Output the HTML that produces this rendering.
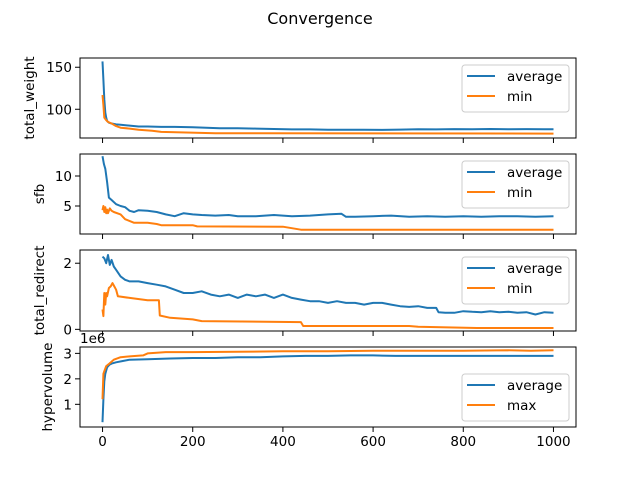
<!DOCTYPE html>
<html><head><meta charset="utf-8"><style>
body{margin:0;background:#fff}
svg{display:block;font-family:"DejaVu Sans","Liberation Sans",sans-serif}
</style></head><body>
<svg id="chart" width="640" height="480" viewBox="0 0 640 480" xmlns="http://www.w3.org/2000/svg">
<rect width="640" height="480" fill="#fff"/>
<text x="320" y="24" text-anchor="middle" font-size="16">Convergence</text>
<g id="plots"></g>
</svg>
<script>
const xTicks=[0,200,400,600,800,1000];
const w_avg_x=[0,2,4,6,8,10,14,20,30,40,60,80,100,130,160,200,230,260,300,340,380,420,460,500,540,580,620,660,700,740,780,820,860,900,940,980,1000];
const w_avg_y=[157,135,112,96,90,86,84,83,82,81.5,80.5,79.5,79.5,79,79,78.5,78,77.5,77.5,77,76.5,76,76,75.5,75.5,75.6,75.4,75.8,76.2,76,76.4,76.2,76.5,76.3,76.4,76.2,76.3];
const w_min_x=[0,2,4,8,12,20,30,40,60,80,110,130,250,1000];
const w_min_y=[117,105,90,87,85,83,80,78,77,75.5,74.5,73,71.5,71];
const s_avg_x=[0,3,6,10,14,20,30,40,50,60,70,80,100,120,140,160,180,200,220,250,280,300,340,380,420,460,500,530,540,560,600,640,680,720,760,800,840,880,920,960,1000];
const s_avg_y=[13.3,12,11.2,9,6.4,6,5.3,5,4.8,4.2,4.0,4.3,4.2,4.0,3.6,3.3,3.8,3.6,3.5,3.4,3.5,3.3,3.3,3.5,3.3,3.4,3.6,3.7,3.2,3.2,3.3,3.4,3.2,3.3,3.2,3.3,3.2,3.3,3.3,3.2,3.3];
const s_min_x=[0,2,4,6,8,10,12,16,20,25,40,50,70,100,120,130,200,210,400,440,1000];
const s_min_y=[4.3,5.0,4.0,4.8,3.8,4.4,3.8,4.6,4.2,4.0,3.6,2.8,2.2,2.2,2.0,1.8,1.8,1.6,1.55,1.05,1.05];
const r_avg_x=[0,4,8,12,16,20,25,30,35,40,50,60,80,100,120,140,160,180,200,220,240,260,280,300,320,340,360,380,400,420,440,460,480,500,520,540,560,580,600,620,640,660,680,700,720,740,745,760,780,800,820,840,860,880,900,920,940,960,980,1000];
const r_avg_y=[2.2,2.15,2.0,2.25,1.95,2.1,1.9,1.8,1.7,1.6,1.5,1.45,1.45,1.4,1.35,1.3,1.2,1.1,1.1,1.15,1.05,1.0,1.05,0.95,1.05,1.0,1.05,0.95,1.05,0.95,0.9,0.85,0.85,0.8,0.85,0.8,0.8,0.75,0.8,0.8,0.75,0.7,0.68,0.7,0.65,0.65,0.52,0.5,0.5,0.55,0.53,0.52,0.55,0.52,0.53,0.5,0.52,0.45,0.52,0.5];
const r_min_x=[0,2,4,6,8,10,14,18,22,26,30,34,60,100,125,127,150,200,220,440,445,680,700,830,1000];
const r_min_y=[0.6,0.4,1.1,0.75,1.1,1.0,1.25,1.3,1.4,1.3,1.2,1.0,0.95,0.88,0.88,0.42,0.35,0.3,0.25,0.22,0.1,0.1,0.08,0.04,0.04];
const h_avg_x=[0,2,4,6,10,15,20,30,45,60,100,150,200,250,300,350,400,450,500,550,600,650,700,750,800,850,900,950,1000];
const h_avg_y=[0.3,1.2,1.9,2.2,2.45,2.55,2.6,2.65,2.7,2.75,2.77,2.8,2.82,2.82,2.85,2.85,2.88,2.9,2.9,2.92,2.92,2.9,2.9,2.9,2.9,2.9,2.9,2.9,2.9];
const h_max_x=[0,2,4,8,15,25,40,60,90,100,140,200,300,400,500,600,700,800,900,950,1000];
const h_max_y=[1.2,2.2,2.3,2.5,2.6,2.75,2.85,2.88,2.92,3.0,3.05,3.05,3.06,3.08,3.08,3.1,3.1,3.1,3.12,3.1,3.12];

const L=80,R=576,xmin=-50,xmax=1050;
const X=v=>L+(v-xmin)/(xmax-xmin)*(R-L);
const panels=[
 {top:58,bot:138,ymin:65.8,ymax:161,yt:[100,150],label:"total_weight",lx:34,s:[[w_avg_x,w_avg_y,"average"],[w_min_x,w_min_y,"min"]],leg:65},
 {top:154,bot:234,ymin:0.33,ymax:13.67,yt:[5,10],label:"sfb",lx:44,s:[[s_avg_x,s_avg_y,"average"],[s_min_x,s_min_y,"min"]],leg:161},
 {top:250,bot:331,ymin:-0.05,ymax:2.4,yt:[0,2],label:"total_redirect",lx:44,s:[[r_avg_x,r_avg_y,"average"],[r_min_x,r_min_y,"min"]],leg:257},
 {top:347,bot:427,ymin:0.11,ymax:3.25,yt:[1,2,3],label:"hypervolume",lx:52,s:[[h_avg_x,h_avg_y,"average"],[h_max_x,h_max_y,"max"]],leg:374,xl:true,off:"1e6"}
];
const NS="http://www.w3.org/2000/svg";
const g=document.getElementById('plots');
function el(t,a,p){const e=document.createElementNS(NS,t);for(const k in a)e.setAttribute(k,a[k]);(p||g).appendChild(e);return e;}
const colors=["#1f77b4","#ff7f0e"];
panels.forEach((p,i)=>{
 const Y=v=>p.bot-(v-p.ymin)/(p.ymax-p.ymin)*(p.bot-p.top);
 const grp=el('g',{});
 
 
 p.s.forEach((s,j)=>{
  const pts=s[0].map((x,k)=>X(x).toFixed(1)+","+Y(s[1][k]).toFixed(1)).join(" ");
  const pl=el('polyline',{points:pts,fill:"none",stroke:colors[j],"stroke-width":2,"stroke-linejoin":"round"},grp);
  
  
 });
 const fr=el('rect',{x:L,y:p.top,width:R-L,height:p.bot-p.top,fill:"none",stroke:"#000","stroke-width":1},grp);
 
 
 xTicks.forEach(t=>{
  el('line',{x1:X(t),x2:X(t),y1:p.bot,y2:p.bot+5,stroke:"#000"},grp);
  if(p.xl){const tx=el('text',{x:X(t),y:p.bot+19,"text-anchor":"middle","font-size":13.5},grp);tx.textContent=t;
   
   }
 });
 p.yt.forEach(t=>{
  el('line',{x1:L-5,x2:L,y1:Y(t),y2:Y(t),stroke:"#000"},grp);
  const tx=el('text',{x:L-8,y:Y(t)+5,"text-anchor":"end","font-size":13.5},grp);tx.textContent=t;
  
  
 });
 const yl=el('text',{x:p.lx,y:(p.top+p.bot)/2,"text-anchor":"middle","font-size":13.5,transform:`rotate(-90 ${p.lx} ${(p.top+p.bot)/2})`},grp);
 yl.textContent=p.label;
 
 
 if(p.off){const o=el('text',{x:L,y:p.top-4,"font-size":13.5},grp);o.textContent=p.off;
  
  }
 const lg=el('g',{},grp);
 
 
 el('rect',{x:462,y:p.leg,width:107,height:47,rx:3,fill:"#fff","fill-opacity":0.8,stroke:"#ccc"},lg);
 p.s.forEach((s,j)=>{
  const yy=p.leg+11+j*20;
  el('line',{x1:467,x2:495,y1:yy,y2:yy,stroke:colors[j],"stroke-width":2},lg);
  const t=el('text',{x:507,y:yy+5,"font-size":13.5},lg);t.textContent=s[2];
  
  
 });
});
</script>
</body></html>
